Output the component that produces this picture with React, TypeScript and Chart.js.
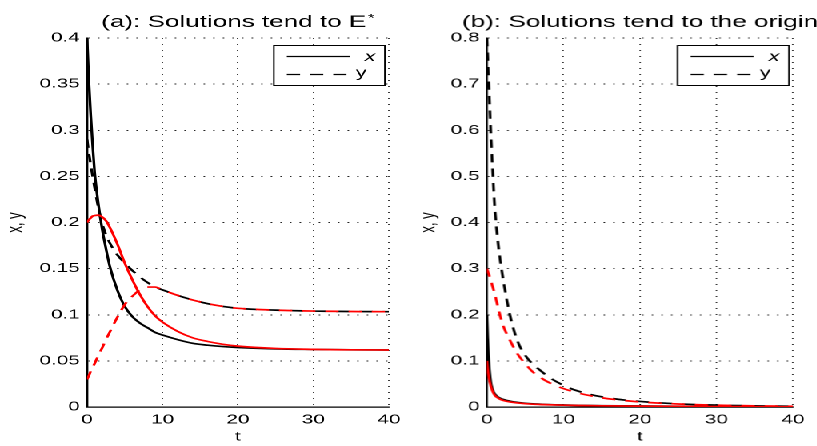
import React, { useEffect, useRef } from "react";
import { Chart, registerables } from "chart.js";

Chart.register(...registerables);

// ---------------- data ----------------
const tA = [0, 0.25, 0.5, 0.75, 1, 1.5, 2, 2.5, 3, 4, 5, 6, 7, 8, 9, 10, 12, 14, 16, 18, 20, 25, 30, 35, 40];
const xBlackA = [0.4, 0.352, 0.315, 0.283, 0.255, 0.22, 0.193, 0.172, 0.153, 0.127, 0.109, 0.098, 0.091, 0.086, 0.081, 0.078, 0.073, 0.069, 0.067, 0.0655, 0.0645, 0.063, 0.0624, 0.062, 0.0618];
const yBlackA = [0.29, 0.275, 0.262, 0.25, 0.238, 0.216, 0.199, 0.187, 0.178, 0.165, 0.156, 0.148, 0.141, 0.135, 0.13, 0.127, 0.121, 0.116, 0.112, 0.109, 0.107, 0.105, 0.104, 0.1035, 0.1033];
const xRedA = [0.2, 0.203, 0.205, 0.207, 0.2075, 0.208, 0.206, 0.202, 0.195, 0.177, 0.156, 0.138, 0.122, 0.109, 0.099, 0.092, 0.082, 0.075, 0.071, 0.068, 0.066, 0.0635, 0.0625, 0.062, 0.0618];
const yRedA = [0.03, 0.034, 0.039, 0.043, 0.047, 0.056, 0.064, 0.073, 0.081, 0.097, 0.111, 0.12, 0.127, 0.13, 0.13, 0.127, 0.121, 0.116, 0.112, 0.109, 0.107, 0.105, 0.104, 0.1035, 0.1033];

const tB = [0, 0.1, 0.25, 0.5, 0.75, 1, 1.5, 2, 3, 4, 5, 6, 7, 8, 10, 12, 15, 18, 20, 25, 30, 35, 40];
const xBlackB = [0.2, 0.15, 0.1, 0.055, 0.038, 0.029, 0.021, 0.017, 0.0125, 0.0098, 0.008, 0.0068, 0.006, 0.0053, 0.0043, 0.0036, 0.0029, 0.0024, 0.0021, 0.0016, 0.0012, 0.0009, 0.0007];
const yBlackB = [0.8, 0.76, 0.7, 0.6, 0.515, 0.44, 0.35, 0.29, 0.2, 0.143, 0.112, 0.093, 0.079, 0.066, 0.047, 0.034, 0.022, 0.015, 0.012, 0.0068, 0.004, 0.0025, 0.0015];
const xRedB = [0.1, 0.082, 0.065, 0.046, 0.034, 0.026, 0.019, 0.015, 0.011, 0.0088, 0.0072, 0.0061, 0.0054, 0.0048, 0.0039, 0.0033, 0.0026, 0.0021, 0.0019, 0.0014, 0.0011, 0.0008, 0.0006];
const yRedB = [0.3, 0.295, 0.288, 0.275, 0.261, 0.247, 0.213, 0.182, 0.145, 0.115, 0.094, 0.076, 0.064, 0.054, 0.04, 0.03, 0.02, 0.014, 0.011, 0.0065, 0.004, 0.0025, 0.0015];

const xTicks = [0, 10, 20, 30, 40];
const xTickLabels = ["0", "10", "20", "30", "40"];
const yTicksA = [0, 0.05, 0.1, 0.15, 0.2, 0.25, 0.3, 0.35, 0.4];
const yTickLabelsA = ["0", "0.05", "0.1", "0.15", "0.2", "0.25", "0.3", "0.35", "0.4"];
const yTicksB = [0, 0.1, 0.2, 0.3, 0.4, 0.5, 0.6, 0.7, 0.8];
const yTickLabelsB = ["0", "0.1", "0.2", "0.3", "0.4", "0.5", "0.6", "0.7", "0.8"];

const titleA = "(a): Solutions tend to E";
const titleB = "(b): Solutions tend to the origin";
const legendLabels = ["x", "y"];

// ---------------- layout / style ----------------
const SX = 1.6; // horizontal stretch of the figure
const W = 817;
const H = 446;
const PRE_W = W / SX;
const LEFT_W = 255.3;
const RIGHT_W = PRE_W - LEFT_W;
const FAMILY = '"Liberation Sans", Arial, Helvetica, sans-serif';
const RED = "#ff0000";
const BLACK = "#000000";
const DASH = [8.3, 6.2];

const zip = (t: number[], v: number[]) => t.map((x, i) => ({ x, y: v[i] }));

const decorPlugin = {
  id: "decor",
  afterDraw(chart: any, _args: any, opts: any) {
    const { ctx, chartArea: ca } = chart;
    ctx.save();
    // title
    const tf = `16.3px ${FAMILY}`;
    const sf = `11px ${FAMILY}`;
    ctx.fillStyle = "#000";
    ctx.textAlign = "left";
    ctx.textBaseline = "alphabetic";
    ctx.font = tf;
    const mainW = ctx.measureText(opts.title).width;
    let starW = 0;
    if (opts.star) {
      ctx.font = sf;
      starW = ctx.measureText("*").width + 1;
    }
    const cx = (ca.left + ca.right) / 2;
    const x0 = cx - (mainW + starW) / 2;
    ctx.font = tf;
    ctx.fillText(opts.title, x0, 27);
    if (opts.star) {
      ctx.font = sf;
      ctx.fillText("*", x0 + mainW + 1, 21.5);
    }
    // legend box
    const bw = 69.4;
    const bh = 40;
    const bx1 = ca.right - 2.5;
    const bx0 = bx1 - bw;
    const by0 = ca.top + 7.5;
    ctx.fillStyle = "#fff";
    ctx.fillRect(bx0, by0, bw, bh);
    ctx.strokeStyle = "#000";
    ctx.lineWidth = 1;
    ctx.setLineDash([]);
    ctx.strokeRect(bx0, by0, bw, bh);
    const lx0 = bx0 + 8.1;
    const lx1 = bx0 + 47.5;
    const r1 = by0 + 11;
    const r2 = by0 + 29;
    ctx.lineWidth = 1.2;
    ctx.beginPath();
    ctx.moveTo(lx0, r1);
    ctx.lineTo(lx1, r1);
    ctx.stroke();
    ctx.setLineDash(DASH);
    ctx.beginPath();
    ctx.moveTo(lx0, r2);
    ctx.lineTo(lx1, r2);
    ctx.stroke();
    ctx.setLineDash([]);
    ctx.fillStyle = "#000";
    ctx.textBaseline = "middle";
    ctx.font = `italic 13.5px ${FAMILY}`;
    ctx.fillText(legendLabels[0], bx0 + 56.7, r1 + 0.5);
    ctx.font = `13.5px ${FAMILY}`;
    ctx.fillText(legendLabels[1], bx0 + 51.2, r2 - 1);
    ctx.restore();
  },
};

function buildConfig(p: any) {
  const font = { family: FAMILY, size: 13 };
  const gridColor = "rgba(0,0,0,0.85)";
  return {
    type: "line",
    data: {
      datasets: [
        { label: "x", data: zip(p.t, p.xRed), borderColor: RED, borderDash: [] },
        { label: "y", data: zip(p.t, p.yRed), borderColor: RED, borderDash: DASH },
        { label: "x", data: zip(p.t, p.xBlack), borderColor: BLACK, borderDash: [] },
        { label: "y", data: zip(p.t, p.yBlack), borderColor: BLACK, borderDash: DASH },
      ],
    },
    plugins: [decorPlugin],
    options: {
      animation: false,
      responsive: true,
      maintainAspectRatio: false,
      devicePixelRatio: 2,
      layout: { padding: { top: 38, right: p.padRight, left: 0, bottom: 0 } },
      elements: {
        point: { radius: 0 },
        line: { borderWidth: 1.7, tension: 0, cubicInterpolationMode: "monotone", fill: false },
      },
      plugins: {
        legend: { display: false },
        tooltip: { enabled: false },
        title: { display: false },
        decor: { title: p.title, star: p.star },
      },
      scales: {
        x: {
          type: "linear",
          min: 0,
          max: 40,
          afterFit: (s: any) => {
            s.height = 39;
          },
          afterBuildTicks: (s: any) => {
            s.ticks = xTicks.map((v) => ({ value: v }));
          },
          grid: { color: gridColor, lineWidth: 0.9, drawTicks: false },
          border: { display: true, color: "#000", width: 1.2, dash: [1, 5] },
          ticks: {
            padding: 5,
            font,
            color: "#000",
            maxRotation: 0,
            autoSkip: false,
            callback: (_v: any, i: number) => xTickLabels[i],
          },
          title: { display: true, text: "t", font, color: "#000", padding: { top: 0, bottom: 1.2 } },
        },
        y: {
          type: "linear",
          min: 0,
          max: p.yMax,
          afterFit: (s: any) => {
            s.width = p.yWidth;
          },
          afterBuildTicks: (s: any) => {
            s.ticks = p.yTicks.map((v: number) => ({ value: v }));
          },
          grid: { color: gridColor, lineWidth: 0.9, drawTicks: false },
          border: { display: true, color: "#000", width: 1.2, dash: [1, 5] },
          ticks: {
            padding: 4.5,
            font,
            color: "#000",
            autoSkip: false,
            callback: (_v: any, i: number) => p.yLabels[i],
          },
          title: { display: true, text: "x, y", font, color: "#000", padding: { top: p.yTitlePad, bottom: 0 } },
        },
      },
    },
  };
}

export default function App() {
  const leftRef = useRef<HTMLCanvasElement | null>(null);
  const rightRef = useRef<HTMLCanvasElement | null>(null);

  useEffect(() => {
    const a = new Chart(
      leftRef.current as HTMLCanvasElement,
      buildConfig({
        t: tA,
        xRed: xRedA,
        yRed: yRedA,
        xBlack: xBlackA,
        yBlack: yBlackA,
        yMax: 0.4,
        yTicks: yTicksA,
        yLabels: yTickLabelsA,
        title: titleA,
        star: true,
        yWidth: 54.4,
        padRight: LEFT_W - 244.4,
        yTitlePad: 2.2,
      }) as any
    );
    const b = new Chart(
      rightRef.current as HTMLCanvasElement,
      buildConfig({
        t: tB,
        xRed: xRedB,
        yRed: yRedB,
        xBlack: xBlackB,
        yBlack: yBlackB,
        yMax: 0.8,
        yTicks: yTicksB,
        yLabels: yTickLabelsB,
        title: titleB,
        star: false,
        yWidth: 304.4 - LEFT_W,
        padRight: PRE_W - 495,
        yTitlePad: 5,
      }) as any
    );
    return () => {
      a.destroy();
      b.destroy();
    };
  }, []);

  return (
    <div
      style={{
        position: "absolute",
        left: 0,
        top: 0,
        width: PRE_W,
        height: H,
        transform: `scaleX(${SX})`,
        transformOrigin: "0 0",
        background: "#fff",
      }}
    >
      <div style={{ position: "absolute", left: 0, top: 0, width: LEFT_W, height: H }}>
        <canvas ref={leftRef} />
      </div>
      <div style={{ position: "absolute", left: LEFT_W, top: 0, width: RIGHT_W, height: H }}>
        <canvas ref={rightRef} />
      </div>
    </div>
  );
}
